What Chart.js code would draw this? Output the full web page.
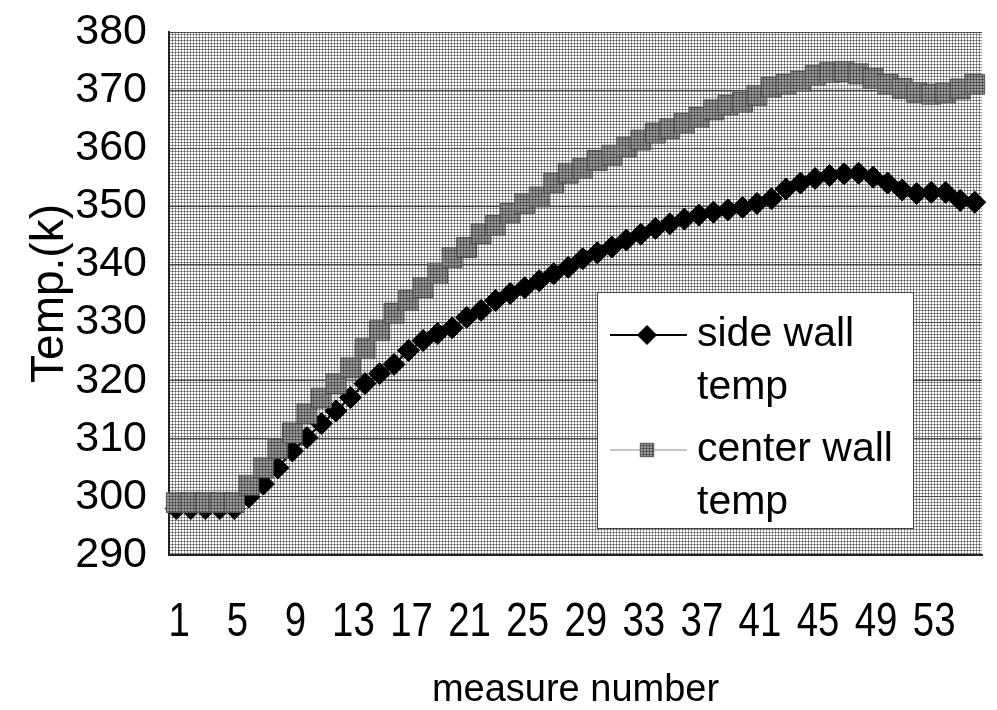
<!DOCTYPE html>
<html>
<head>
<meta charset="utf-8">
<script src="https://cdn.jsdelivr.net/npm/chart.js@4/dist/chart.umd.min.js"></script>
<style>
  html, body { margin: 0; padding: 0; background: #fff; }
  #chart { display: block; }
</style>
</head>
<body>
<canvas id="chart" width="997" height="710"></canvas>
<script>
// measure numbers 1..56
const measures = [
  1, 2, 3, 4, 5, 6, 7, 8, 9, 10, 11, 12, 13, 14, 15, 16, 17, 18, 19, 20,
  21, 22, 23, 24, 25, 26, 27, 28, 29, 30, 31, 32, 33, 34, 35, 36, 37, 38, 39, 40,
  41, 42, 43, 44, 45, 46, 47, 48, 49, 50, 51, 52, 53, 54, 55, 56
];

const sideWallTemp = [
  298, 298, 298, 298, 298, 300, 302.2, 305, 307.9, 310.2,
  312.6, 314.8, 317.1, 319.5, 321.2, 322.8, 325.2, 326.9, 328.1, 329.1,
  330.9, 332.1, 333.8, 335, 336, 337.2, 338.4, 339.5, 341, 342,
  343, 344.2, 345.2, 346.2, 347, 347.8, 348.5, 349, 349.4, 349.8,
  350.5, 351.3, 353, 354, 354.8, 355.3, 355.6, 355.7, 355, 354,
  352.8, 352.2, 352.4, 352.4, 351, 350.7
];

const centerWallTemp = [
  299, 299, 299, 299, 299, 302, 305, 308.3, 311, 314.3,
  317, 319.5, 322.2, 325.5, 328.6, 331.6, 333.8, 336, 338.4, 341.2,
  342.9, 345.3, 346.7, 348.8, 350.5, 351.6, 354, 355.7, 356.5, 357.9,
  358.8, 360.2, 361.4, 362.6, 363.4, 364.3, 365.3, 366.6, 367.4, 367.9,
  369.1, 370.5, 371, 371.5, 372.5, 373, 373.2, 372.8, 372, 371,
  370.3, 369.6, 369.3, 369.5, 370.2, 371
];

const seriesNames = [['side wall', 'temp'], ['center wall', 'temp']];
const yMin = 290, yMax = 380, yStep = 10;
const labelEvery = 4;

const sans = "'Liberation Sans', Arial, sans-serif";

// little halftone tiles, like the scanned print
function halftone(center, edge, corner) {
  const c = document.createElement('canvas');
  c.width = 3; c.height = 3;
  const g = c.getContext('2d');
  g.fillStyle = corner; g.fillRect(0, 0, 3, 3);
  g.fillStyle = edge;
  g.fillRect(1, 0, 1, 3);
  g.fillRect(0, 1, 3, 1);
  g.fillStyle = center; g.fillRect(1, 1, 1, 1);
  return g.createPattern(c, 'repeat');
}

const ctx = document.getElementById('chart').getContext('2d');
const plotFill = halftone('#555', '#9c9c9c', '#ffffff');
const squareFill = halftone('#2e2e2e', '#666', '#9a9a9a');

const plotBackground = {
  id: 'plotBackground',
  beforeDraw(chart) {
    const c = chart.ctx, a = chart.chartArea;
    c.save();
    c.fillStyle = '#fff';
    c.fillRect(0, 0, chart.width, chart.height);
    c.fillStyle = plotFill;
    c.fillRect(a.left, a.top, a.right - a.left, a.bottom - a.top);
    c.restore();
  }
};

// condensed x tick labels (the scan uses a narrow face)
const narrowXTicks = {
  id: 'narrowXTicks',
  afterDraw(chart) {
    const c = chart.ctx, xs = chart.scales.x;
    c.save();
    c.fillStyle = '#000';
    c.font = '48px ' + sans;
    c.textAlign = 'center';
    c.textBaseline = 'middle';
    xs.ticks.forEach((t, i) => {
      if (i % labelEvery) return;
      c.save();
      c.translate(xs.getPixelForTick(i) + 3, chart.chartArea.bottom + 68);
      c.scale(0.8, 1);
      c.fillText(String(measures[i]), 0, 0);
      c.restore();
    });
    c.restore();
  }
};

const boxLegend = {
  id: 'boxLegend',
  afterDraw(chart) {
    const c = chart.ctx, a = chart.chartArea;
    const bx = a.left + 428, by = a.top + 260, bw = 316, bh = 236;
    c.save();
    c.fillStyle = '#fff';
    c.fillRect(bx, by, bw, bh);
    c.strokeStyle = '#444';
    c.lineWidth = 1;
    c.strokeRect(bx + 0.5, by + 0.5, bw, bh);

    const rows = [43, 96, 158, 211];
    chart.data.datasets.forEach((ds, i) => {
      const y = by + rows[i * 2];
      c.strokeStyle = ds.borderColor;
      c.lineWidth = ds.borderWidth;
      c.beginPath();
      c.moveTo(bx + 13, y);
      c.lineTo(bx + 90, y);
      c.stroke();
      c.fillStyle = ds.pointBackgroundColor;
      c.strokeStyle = ds.pointBorderColor;
      c.lineWidth = 1;
      Chart.helpers.drawPoint(c, { pointStyle: ds.pointStyle, radius: 9.5, borderWidth: 1 }, bx + 50, y);
      c.fillStyle = '#000';
      c.font = '41px ' + sans;
      c.textBaseline = 'middle';
      c.textAlign = 'left';
      c.fillText(seriesNames[i][0], bx + 100, y);
      c.fillText(seriesNames[i][1], bx + 100, by + rows[i * 2 + 1]);
    });
    c.restore();
  }
};

new Chart(ctx, {
  type: 'line',
  data: {
    labels: measures,
    datasets: [
      {
        label: 'side wall temp',
        data: sideWallTemp,
        borderColor: '#000',
        borderWidth: 2,
        pointStyle: 'rectRot',
        pointRadius: 11,
        pointBackgroundColor: '#000',
        pointBorderColor: '#000',
        pointBorderWidth: 1,
        tension: 0,
        order: 2
      },
      {
        label: 'center wall temp',
        data: centerWallTemp,
        borderColor: '#888',
        borderWidth: 1,
        pointStyle: 'rect',
        pointRadius: 14,
        pointBackgroundColor: squareFill,
        pointBorderColor: '#555',
        pointBorderWidth: 1,
        tension: 0,
        order: 1
      }
    ]
  },
  options: {
    responsive: false,
    animation: false,
    events: [],
    layout: { padding: { left: 19, right: 10, top: 32, bottom: 0 } },
    plugins: {
      legend: { display: false },
      tooltip: { enabled: false }
    },
    scales: {
      x: {
        offset: true,
        afterFit(s) { s.height = 155; s.paddingLeft = 0; s.paddingRight = 0; },
        grid: { display: false, drawTicks: false },
        border: { display: true, color: '#222', width: 2 },
        ticks: { display: false, autoSkip: false },
        title: {
          display: true,
          text: 'measure number',
          color: '#000',
          font: { family: sans, size: 38, lineHeight: 1 },
          padding: { top: 0, bottom: 0 }
        }
      },
      y: {
        min: yMin,
        max: yMax,
        afterFit(s) { s.width = 150; s.paddingTop = 0; s.paddingBottom = 0; },
        grid: { color: '#4a4a4a', lineWidth: 1, drawTicks: false },
        border: { display: true, color: '#222', width: 2 },
        ticks: {
          stepSize: yStep,
          padding: 22,
          color: '#000',
          font: { family: sans, size: 43 }
        },
        title: {
          display: true,
          text: 'Temp.(k)',
          color: '#000',
          font: { family: sans, size: 46 },
          padding: { top: 4, bottom: 4 }
        }
      }
    }
  },
  plugins: [plotBackground, narrowXTicks, boxLegend]
});
</script>
</body>
</html>
